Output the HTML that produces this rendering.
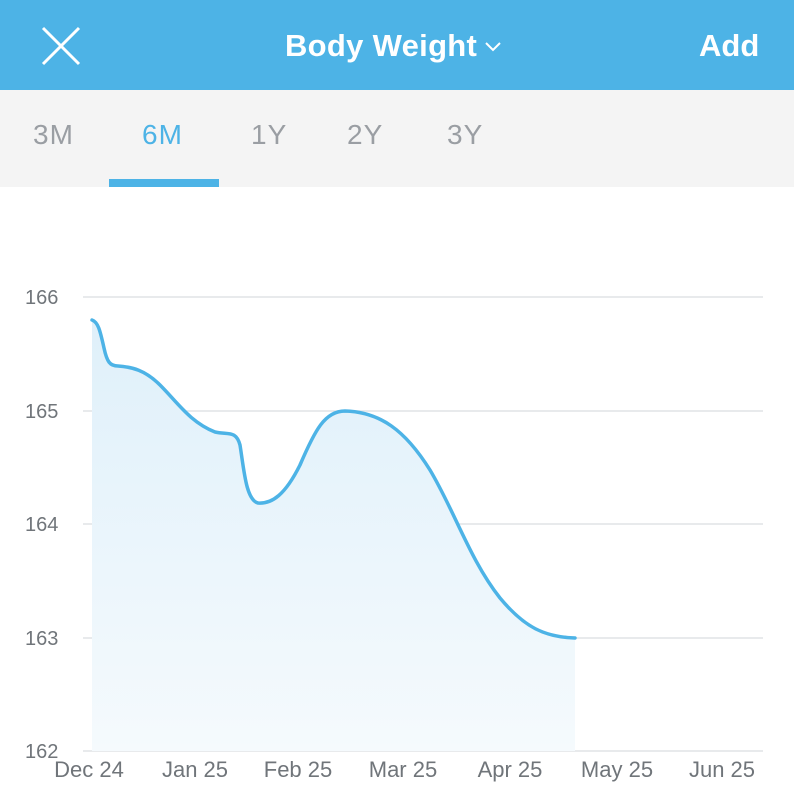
<!DOCTYPE html>
<html><head><meta charset="utf-8"><style>
body{margin:0;width:794px;height:800px;overflow:hidden;background:#fff;font-family:"Liberation Sans",sans-serif;}
.hdr{position:absolute;left:0;top:0;width:794px;height:90px;background:#4db3e6;color:#fff;}
.tabs{position:absolute;left:0;top:90px;width:794px;height:97px;background:#f4f4f4;}
.tab{position:absolute;top:29px;font-size:28px;color:#9a9ea3;letter-spacing:1px;}
</style></head><body>
<div class="hdr">
<svg style="position:absolute;left:40px;top:26px" width="42" height="40"><path d="M3 2L39 38M39 2L3 38" stroke="#fff" stroke-width="3"/></svg>
<div style="position:absolute;left:285px;top:28px;font-size:31px;font-weight:bold;letter-spacing:0.3px">Body Weight</div>
<svg style="position:absolute;left:485px;top:42px" width="16" height="10"><path d="M1 1L8 8L15 1" stroke="#fff" stroke-width="2" fill="none"/></svg>
<div style="position:absolute;left:699px;top:28px;font-size:31px;font-weight:bold;">Add</div>
</div>
<div class="tabs">
<div class="tab" style="left:33px">3M</div>
<div class="tab" style="left:142px;color:#4db3e6">6M</div>
<div class="tab" style="left:251px">1Y</div>
<div class="tab" style="left:347px">2Y</div>
<div class="tab" style="left:447px">3Y</div>
<div style="position:absolute;left:109px;top:89px;width:110px;height:8px;background:#4db3e6"></div>
</div>
<svg style="position:absolute;left:0;top:0" width="794" height="800">
<defs><linearGradient id="g" x1="0" y1="0" x2="0" y2="1"><stop offset="0" stop-color="#dff0fa"/><stop offset="1" stop-color="#f5fafd"/></linearGradient></defs>
<g stroke="#e0e3e6" stroke-width="1.5">
<line x1="83" y1="297" x2="763" y2="297"/><line x1="83" y1="411" x2="763" y2="411"/>
<line x1="83" y1="524" x2="763" y2="524"/><line x1="83" y1="638" x2="763" y2="638"/>
<line x1="83" y1="751" x2="763" y2="751"/></g>
<path d="M92 320 C98 322 100 330 104 348 C107 362 110 366 118 366 C132 367 145 370 160 385 C178 403 190 422 215 432 C228 435 236 430 240 445 C244 470 246 500 258 503 C272 504 285 495 300 465 C315 430 325 411 345 411 C380 412 405 430 430 470 C455 512 470 560 500 598 C525 628 545 637 575 638 L575 751 L92 751 Z" fill="url(#g)"/>
<path d="M92 320 C98 322 100 330 104 348 C107 362 110 366 118 366 C132 367 145 370 160 385 C178 403 190 422 215 432 C228 435 236 430 240 445 C244 470 246 500 258 503 C272 504 285 495 300 465 C315 430 325 411 345 411 C380 412 405 430 430 470 C455 512 470 560 500 598 C525 628 545 637 575 638" fill="none" stroke="#4db3e6" stroke-width="3.5" stroke-linecap="round"/>
<g font-size="20" fill="#70757a" font-family="Liberation Sans,sans-serif">
<text x="25" y="304">166</text><text x="25" y="418">165</text><text x="25" y="531">164</text><text x="25" y="645">163</text><text x="25" y="758">162</text>
<g text-anchor="middle" font-size="22"><text x="89" y="777">Dec 24</text><text x="195" y="777">Jan 25</text><text x="298" y="777">Feb 25</text><text x="403" y="777">Mar 25</text><text x="510" y="777">Apr 25</text><text x="617" y="777">May 25</text><text x="722" y="777">Jun 25</text></g>
</g></svg>
</body></html>
